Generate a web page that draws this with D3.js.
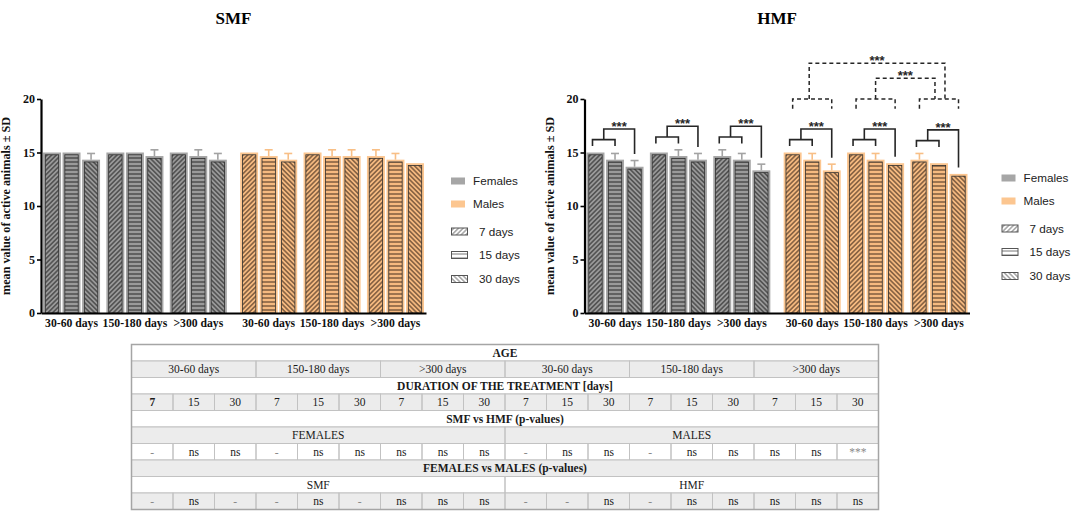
<!DOCTYPE html>
<html>
<head>
<meta charset="utf-8">
<script src="https://cdnjs.cloudflare.com/ajax/libs/d3/7.8.5/d3.min.js"></script>
<style>
  body { margin: 0; background: #fff; }
  svg { display: block; }
</style>
</head>
<body>
<div id="chart"></div>
<script>
// categories
var ages = ["30-60 days", "150-180 days", ">300 days"];
var durations = ["7 days", "15 days", "30 days"];
var sexes = ["Females", "Males"];
var yTicks = [0, 5, 10, 15, 20];

// mean number of active animals, rows = age group, columns = duration
var smfFemalesMean = [[15, 15, 14.33], [15, 15, 14.67], [15, 14.67, 14.33]];
var smfFemalesSD   = [[0, 0, 0.58], [0, 0, 0.58], [0, 0.58, 0.58]];
var smfMalesMean   = [[15, 14.67, 14.33], [15, 14.67, 14.67], [14.67, 14.33, 14]];
var smfMalesSD     = [[0, 0.58, 0.58], [0, 0.58, 0.58], [0.58, 0.58, 0]];
var hmfFemalesMean = [[15, 14.33, 13.67], [15, 14.67, 14.33], [14.67, 14.33, 13.33]];
var hmfFemalesSD   = [[0, 0.58, 0.58], [0, 0.58, 0.58], [0.58, 0.58, 0.58]];
var hmfMalesMean   = [[15, 14.33, 13.33], [15, 14.33, 14], [14.33, 14, 13]];
var hmfMalesSD     = [[0, 0.58, 0.58], [0, 0.58, 0], [0.58, 0, 0]];

// HMF significance: duration effect inside each group, and age effect in males
var hmfWithinStars = ["***", "***", "***", "***", "***", "***"];
var hmfMaleAgeFrom = ["150-180 days", "30-60 days"];
var hmfMaleAgeTo = [">300 days", ">300 days"];
var hmfMaleAgeStars = ["***", "***"];

// table
var tableAges = ages.concat(ages);
var tableDays = ["7", "15", "30", "7", "15", "30", "7", "15", "30",
                 "7", "15", "30", "7", "15", "30", "7", "15", "30"];
var tableSexes = ["FEMALES", "MALES"];
var tableFields = ["SMF", "HMF"];
var smfVsHmfP = ["-", "ns", "ns", "-", "ns", "ns", "ns", "ns", "ns",
                 "-", "ns", "ns", "-", "ns", "ns", "ns", "ns", "***"];
var femalesVsMalesP = ["-", "ns", "-", "-", "ns", "-", "ns", "ns", "ns",
                       "-", "-", "ns", "-", "ns", "ns", "ns", "ns", "ns"];

var serif = "'Liberation Serif', 'Times New Roman', serif";
var sans = "'Liberation Sans', Arial, sans-serif";

var svgWidth = 1072;
var svgHeight = 511;

var svg = d3.select("#chart")
  .append("svg")
  .attr("width", svgWidth)
  .attr("height", svgHeight);

svg.append("rect").attr("width", svgWidth).attr("height", svgHeight).attr("fill", "#fff");

var colors = {
  Females: { outer: "#a6a6a6", bg: "#9a9a9a", line: "#363636", err: "#a3a3a3" },
  Males:   { outer: "#fcc690", bg: "#f6ba80", line: "#5a3f2a", err: "#f8bf86" }
};
var hatchAngle = [45, 0, -45];
var hatchSize = [3.3, 4, 3.3];

// patterns
var defs = svg.append("defs");
function hatch(id, d, bg, line, sw) {
  var s = hatchSize[d];
  var p = defs.append("pattern")
    .attr("id", id)
    .attr("patternUnits", "userSpaceOnUse")
    .attr("width", s)
    .attr("height", s);
  if (hatchAngle[d] !== 0) p.attr("patternTransform", "rotate(" + hatchAngle[d] + ")");
  p.append("rect").attr("width", s).attr("height", s).attr("fill", bg);
  if (hatchAngle[d] === 0) {
    p.append("line").attr("x1", 0).attr("x2", s).attr("y1", s / 2).attr("y2", s / 2)
      .attr("stroke", line).attr("stroke-width", sw);
  } else {
    p.append("line").attr("x1", s / 2).attr("x2", s / 2).attr("y1", 0).attr("y2", s)
      .attr("stroke", line).attr("stroke-width", sw);
  }
}
sexes.forEach(function(sex, s) {
  durations.forEach(function(dur, d) {
    hatch("pat-" + s + "-" + d, d, colors[sex].bg, colors[sex].line, 1.15);
  });
});
durations.forEach(function(dur, d) {
  hatch("leg-" + d, d, "#fff", "#666", 0.9);
});

// shared scales
var yTop = 99, yBottom = 313, plotWidth = 385, sexGap = 7;
var y = d3.scaleLinear().domain([0, 20]).range([yBottom, yTop]);
var groupX = d3.scaleBand().domain(d3.range(6)).range([2, plotWidth - 2 - sexGap]).paddingInner(0.1);
var barX = d3.scaleBand().domain(durations).range([0, groupX.bandwidth()]).paddingInner(0.08);

function barData(femMean, femSD, maleMean, maleSD) {
  var out = [];
  sexes.forEach(function(sex, s) {
    var means = s === 0 ? femMean : maleMean;
    var sds = s === 0 ? femSD : maleSD;
    ages.forEach(function(age, a) {
      durations.forEach(function(dur, d) {
        out.push({ sex: sex, s: s, age: age, a: a, dur: dur, d: d, g: s * 3 + a,
                   mean: means[a][d], sd: sds[a][d] });
      });
    });
  });
  return out;
}
function groupLeft(g) { return groupX(g) + (g >= 3 ? sexGap : 0); }
function barLeft(b) { return groupLeft(b.g) + barX(b.dur); }
function barCenter(b) { return barLeft(b) + barX.bandwidth() / 2; }

function drawChart(cfg) {
  var bars = barData(cfg.femMean, cfg.femSD, cfg.maleMean, cfg.maleSD);
  var chartGroup = svg.append("g").attr("transform", "translate(" + cfg.x0 + ",0)");

  // title
  chartGroup.append("text")
    .attr("x", plotWidth / 2)
    .attr("y", 24)
    .attr("text-anchor", "middle")
    .attr("font-family", serif)
    .attr("font-weight", "bold")
    .attr("font-size", 17)
    .text(cfg.title);

  // bars
  var bw = barX.bandwidth(), inset = 2.3;
  var barG = chartGroup.selectAll(".bar").data(bars).enter().append("g").attr("class", "bar");
  barG.append("rect")
    .attr("x", barLeft)
    .attr("y", function(d) { return y(d.mean); })
    .attr("width", bw)
    .attr("height", function(d) { return yBottom - y(d.mean); })
    .attr("fill", function(d) { return colors[d.sex].outer; });
  barG.append("rect")
    .attr("x", function(d) { return barLeft(d) + inset; })
    .attr("y", function(d) { return y(d.mean) + inset; })
    .attr("width", bw - 2 * inset)
    .attr("height", function(d) { return yBottom - y(d.mean) - inset; })
    .attr("fill", function(d) { return "url(#pat-" + d.s + "-" + d.d + ")"; })
    .attr("stroke", "#2e2e2e")
    .attr("stroke-width", 0.8);

  // error bars (upper only)
  var errG = chartGroup.selectAll(".err").data(bars.filter(function(d) { return d.sd > 0; }))
    .enter().append("g").attr("class", "err")
    .attr("stroke", function(d) { return colors[d.sex].err; })
    .attr("stroke-width", 1.6);
  errG.append("line")
    .attr("x1", barCenter).attr("x2", barCenter)
    .attr("y1", function(d) { return y(d.mean); })
    .attr("y2", function(d) { return y(d.mean + d.sd); });
  errG.append("line")
    .attr("x1", function(d) { return barCenter(d) - 4; })
    .attr("x2", function(d) { return barCenter(d) + 4; })
    .attr("y1", function(d) { return y(d.mean + d.sd); })
    .attr("y2", function(d) { return y(d.mean + d.sd); });

  // y axis
  var yAxis = chartGroup.append("g")
    .call(d3.axisLeft(y).tickValues(yTicks).tickSize(4).tickSizeOuter(0).tickPadding(2))
    .attr("font-family", serif)
    .attr("font-size", 12)
    .attr("font-weight", "bold");
  yAxis.select(".domain").attr("stroke-width", 2.2);
  yAxis.selectAll(".tick line").attr("stroke-width", 1.6);
  yAxis.selectAll(".tick text").attr("fill", "#111");

  // x axis line
  var xLine = d3.scaleLinear().domain([0, 1]).range([0, plotWidth]);
  var xAxis = chartGroup.append("g")
    .attr("transform", "translate(0," + yBottom + ")")
    .call(d3.axisBottom(xLine).tickValues([]).tickSizeOuter(0));
  xAxis.select(".domain").attr("stroke-width", 2.2);

  // group labels
  chartGroup.selectAll(".glabel").data(d3.range(6)).enter().append("text")
    .attr("x", function(g) { return groupLeft(g) + groupX.bandwidth() / 2; })
    .attr("y", 327)
    .attr("text-anchor", "middle")
    .attr("font-family", serif)
    .attr("font-weight", "bold")
    .attr("font-size", 11.7)
    .attr("fill", "#111")
    .text(function(g) { return ages[g % 3]; });

  // y label
  chartGroup.append("text")
    .attr("transform", "rotate(-90)")
    .attr("x", -(yTop + yBottom) / 2)
    .attr("y", -31)
    .attr("text-anchor", "middle")
    .attr("font-family", serif)
    .attr("font-weight", "bold")
    .attr("font-size", 12.2)
    .attr("fill", "#111")
    .text("mean value of active animals \u00b1 SD");

  // legend
  var legend = chartGroup.append("g")
    .attr("transform", "translate(" + cfg.legendDx + "," + cfg.legendDy + ")")
    .attr("font-family", sans)
    .attr("font-size", 11.7)
    .attr("fill", "#222");
  var rowsY = [181, 204, 231.5, 255, 279];
  sexes.forEach(function(sex, s) {
    legend.append("rect").attr("x", 0).attr("y", rowsY[s] - 3.5)
      .attr("width", 14).attr("height", 7).attr("fill", colors[sex].outer);
    legend.append("text").attr("x", 22).attr("y", rowsY[s]).attr("dy", "0.35em").text(sex);
  });
  durations.forEach(function(dur, d) {
    legend.append("rect").attr("x", 0.5).attr("y", rowsY[d + 2] - 3.5)
      .attr("width", 16).attr("height", 7)
      .attr("fill", "url(#leg-" + d + ")")
      .attr("stroke", "#555").attr("stroke-width", 1);
    legend.append("text").attr("x", 28).attr("y", rowsY[d + 2]).attr("dy", "0.35em").text(dur);
  });

  if (!cfg.stars) return;

  // significance brackets inside each group
  var brackets = chartGroup.append("g")
    .attr("fill", "none")
    .attr("stroke", "#262626")
    .attr("stroke-width", 1.6);
  var starG = chartGroup.append("g")
    .attr("font-family", sans)
    .attr("font-weight", "bold")
    .attr("font-size", 13)
    .attr("fill", "#262626")
    .attr("text-anchor", "middle");

  d3.range(6).forEach(function(g) {
    var bs = bars.filter(function(b) { return b.g === g; });
    var tops = bs.map(function(b) { return b.mean + b.sd; });
    var c = bs.map(barCenter);
    var low = Math.max(tops[0], tops[1]) + 1.2;
    var high = low + 1.0;
    var left = c[0] - 3;
    var mid = (left + c[1]) / 2;
    brackets.append("path").attr("d",
      "M" + left + "," + y(low - 0.6) + "V" + y(low) + "H" + c[1] + "V" + y(low - 0.6));
    brackets.append("path").attr("d",
      "M" + mid + "," + y(low) + "V" + y(high) + "H" + c[2] + "V" + y(tops[2] + 0.6));
    starG.append("text").attr("x", (mid + c[2]) / 2).attr("y", y(high) + 2).text(hmfWithinStars[g]);
  });

  // dashed brackets comparing male age groups
  var dashed = chartGroup.append("g")
    .attr("fill", "none")
    .attr("stroke", "#262626")
    .attr("stroke-width", 1.5)
    .attr("stroke-dasharray", "4,3");
  var groupMid = {};
  ages.forEach(function(age, a) {
    var g = a + 3;
    var bs = bars.filter(function(b) { return b.g === g; });
    var c0 = barCenter(bs[0]), c2 = barCenter(bs[2]);
    groupMid[age] = (c0 + c2) / 2;
    dashed.append("path").attr("d",
      "M" + c0 + "," + y(19.1) + "V" + y(20) + "H" + c2 + "V" + y(19.1));
  });
  var levels = [21.95, 23.35], toShift = [-4, 6], fromShift = [0, -3];
  hmfMaleAgeFrom.forEach(function(from, k) {
    var x1 = groupMid[from] + fromShift[k];
    var x2 = groupMid[hmfMaleAgeTo[k]] + toShift[k];
    dashed.append("path").attr("d",
      "M" + x1 + "," + y(20) + "V" + y(levels[k]) + "H" + x2 + "V" + y(20));
    starG.append("text").attr("x", (x1 + x2) / 2).attr("y", y(levels[k]) + 2).text(hmfMaleAgeStars[k]);
  });
}

drawChart({ title: "SMF", x0: 41, femMean: smfFemalesMean, femSD: smfFemalesSD,
            maleMean: smfMalesMean, maleSD: smfMalesSD, legendDx: 410, legendDy: 0, stars: false });
drawChart({ title: "HMF", x0: 584.5, femMean: hmfFemalesMean, femSD: hmfFemalesSD,
            maleMean: hmfMalesMean, maleSD: hmfMalesSD, legendDx: 417, legendDy: -3, stars: true });

// table under the charts
var tableX = 131.5, tableW = 747, tableY = 344.5, rowH = 16.5;
var white = "#ffffff", grey = "#ececec";
function spanCells(list, span, bold) {
  return list.map(function(t, i) { return { c: i * span, span: span, text: t, bold: bold }; });
}
var tableRows = [
  { fill: white, cells: [{ c: 0, span: 18, text: "AGE", bold: true }] },
  { fill: grey,  cells: spanCells(tableAges, 3, false) },
  { fill: white, cells: [{ c: 0, span: 18, text: "DURATION OF THE TREATMENT [days]", bold: true }] },
  { fill: grey,  cells: tableDays.map(function(t, i) { return { c: i, span: 1, text: t, bold: i === 0 }; }) },
  { fill: white, cells: [{ c: 0, span: 18, text: "SMF vs HMF (p-values)", bold: true }] },
  { fill: grey,  cells: spanCells(tableSexes, 9, false) },
  { fill: white, cells: spanCells(smfVsHmfP, 1, false) },
  { fill: grey,  cells: [{ c: 0, span: 18, text: "FEMALES vs MALES (p-values)", bold: true }] },
  { fill: white, cells: spanCells(tableFields, 9, false) },
  { fill: grey,  cells: spanCells(femalesVsMalesP, 1, false) }
];
var colX = d3.scaleLinear().domain([0, 18]).range([tableX, tableX + tableW]);
var rowY = d3.scaleLinear().domain([0, tableRows.length]).range([tableY, tableY + rowH * tableRows.length]);

var table = svg.append("g").attr("font-family", serif).attr("font-size", 11.5);
tableRows.forEach(function(row, r) {
  var rg = table.append("g");
  rg.append("rect")
    .attr("x", tableX).attr("y", rowY(r))
    .attr("width", tableW).attr("height", rowH)
    .attr("fill", row.fill);
  row.cells.forEach(function(cell) {
    var x1 = colX(cell.c), x2 = colX(cell.c + cell.span);
    rg.append("rect")
      .attr("x", x1).attr("y", rowY(r))
      .attr("width", x2 - x1).attr("height", rowH)
      .attr("fill", "none").attr("stroke", "#c2c2c2").attr("stroke-width", 1);
    var faint = cell.text === "-" || cell.text === "***";
    rg.append("text")
      .attr("x", (x1 + x2) / 2)
      .attr("y", rowY(r) + rowH / 2)
      .attr("dy", "0.35em")
      .attr("text-anchor", "middle")
      .attr("fill", faint ? "#8a8a8a" : "#1a1a1a")
      .attr("font-weight", cell.bold ? "bold" : "normal")
      .text(cell.text);
  });
});
table.append("rect")
  .attr("x", tableX).attr("y", tableY)
  .attr("width", tableW).attr("height", rowH * tableRows.length)
  .attr("fill", "none").attr("stroke", "#a5a5a5").attr("stroke-width", 1.5);
</script>
</body>
</html>
